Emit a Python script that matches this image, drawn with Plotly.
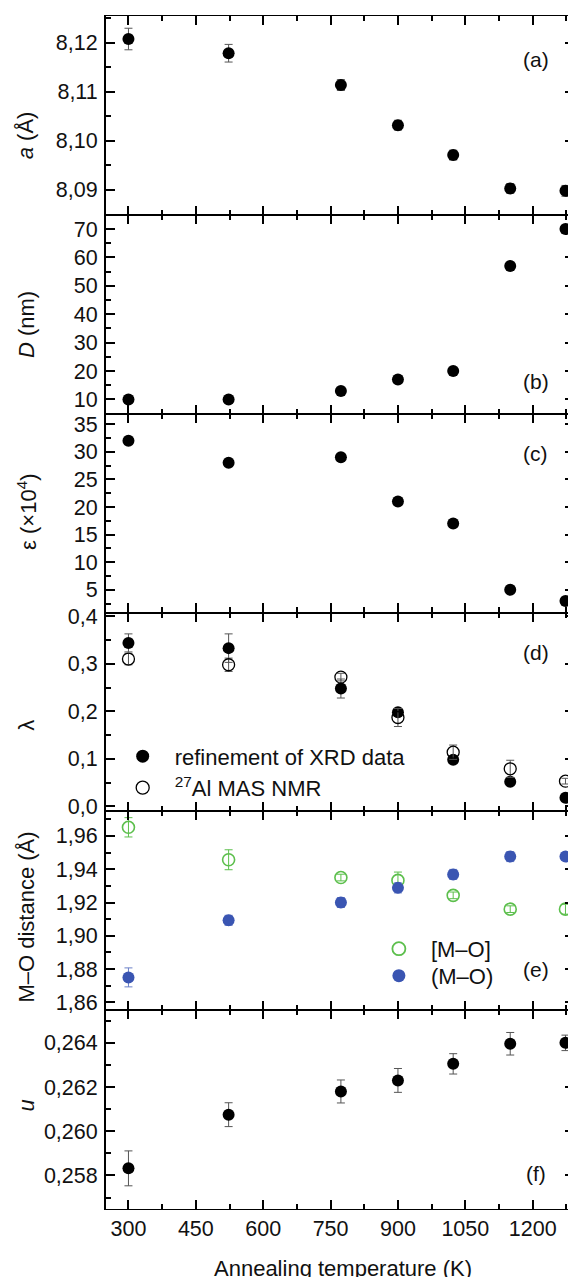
import plotly.graph_objects as go
from plotly.subplots import make_subplots

# ---------------- data ----------------
T = [300, 523, 773, 900, 1023, 1150, 1273]

a_val = [8.1208, 8.1179, 8.1114, 8.1032, 8.0971, 8.0903, 8.0898]
a_err = [0.0022, 0.0018, 0.0011, 0.0010, 0.0010, 0.0010, 0.0011]

D_val = [10, 10, 13, 17, 20, 57, 70]

eps_val = [32, 28, 29, 21, 17, 5, 3]

lam_xrd = [0.344, 0.333, 0.248, 0.198, 0.098, 0.052, 0.018]
lam_xrd_err = [0.019, 0.030, 0.020, 0.008, 0.005, 0.004, 0.004]
lam_nmr = [0.310, 0.298, 0.272, 0.187, 0.114, 0.079, 0.053]
lam_nmr_err = [0.012, 0.014, 0.008, 0.019, 0.015, 0.018, 0.006]

mo_tet = [1.9652, 1.9457, 1.9350, 1.9333, 1.9243, 1.9160, 1.9160]   # [M-O]
mo_tet_err = [0.0058, 0.0060, 0.0020, 0.0050, 0.0020, 0.0020, 0.0030]
mo_oct = [1.8750, 1.9093, 1.9200, 1.9288, 1.9369, 1.9476, 1.9476]   # (M-O)
mo_oct_err = [0.0057, 0.0030, 0.0030, 0.0030, 0.0030, 0.0030, 0.0020]

u_val = [0.25832, 0.26075, 0.26180, 0.26230, 0.26305, 0.26396, 0.26400]
u_err = [0.00079, 0.00054, 0.00052, 0.00054, 0.00046, 0.00051, 0.00035]

x_ticks = [300, 450, 600, 750, 900, 1050, 1200]

# ---------------- style ----------------
FONT = "Liberation Sans, Arial, sans-serif"
TXT = "#111111"
GREEN = "#5cbf4c"
BLUE = "#3a55b2"
ERR = "#555555"
MS = 12

OFF = 8                      # default page body margin
PAGE_W, PAGE_H = 576, 1277
W, H = PAGE_W - OFF, PAGE_H - OFF
PL, PR, PT, PB = 106, 576, 15, 1209   # plot area in page pixels
ML, MT = PL - OFF, PT - OFF
MR = 0
MB = H - (PB - OFF)
PW = PR - PL
PH = PB - PT


def px_x(px):
    return (px - PL) / PW


def px_y(py):
    return (PB - py) / PH


fig = make_subplots(rows=6, cols=1, shared_xaxes=True, vertical_spacing=0)


def err(arr, color=ERR):
    return dict(type="data", array=arr, visible=True, color=color, thickness=1, width=4)


filled = dict(symbol="circle", size=MS, color="black")

fig.add_trace(go.Scatter(x=T, y=a_val, mode="markers", marker=filled,
                         error_y=err(a_err), showlegend=False), row=1, col=1)
fig.add_trace(go.Scatter(x=T, y=D_val, mode="markers", marker=filled,
                         showlegend=False), row=2, col=1)
fig.add_trace(go.Scatter(x=T, y=eps_val, mode="markers", marker=filled,
                         showlegend=False), row=3, col=1)
fig.add_trace(go.Scatter(x=T, y=lam_xrd, mode="markers", marker=filled,
                         error_y=err(lam_xrd_err), showlegend=False), row=4, col=1)
fig.add_trace(go.Scatter(x=T, y=lam_nmr, mode="markers",
                         marker=dict(symbol="circle-open", size=MS, color="black",
                                     line=dict(width=1.3)),
                         error_y=err(lam_nmr_err), showlegend=False), row=4, col=1)
fig.add_trace(go.Scatter(x=T, y=mo_tet, mode="markers",
                         marker=dict(symbol="circle-open", size=MS, color=GREEN,
                                     line=dict(width=1.6)),
                         error_y=err(mo_tet_err, GREEN), showlegend=False), row=5, col=1)
fig.add_trace(go.Scatter(x=T, y=mo_oct, mode="markers",
                         marker=dict(symbol="circle", size=MS, color=BLUE),
                         error_y=err(mo_oct_err, "#6b80c8"), showlegend=False), row=5, col=1)
fig.add_trace(go.Scatter(x=T, y=u_val, mode="markers", marker=filled,
                         error_y=err(u_err), showlegend=False), row=6, col=1)

# legend-only entries
LMS = 13
leg_entries = [
    ("refinement of XRD data", dict(symbol="circle", size=LMS, color="black"), "legend", 4),
    ("<sup>27</sup>Al MAS NMR", dict(symbol="circle-open", size=LMS, color="black", line=dict(width=1.3)), "legend2", 4),
    ("[M\u2013O]", dict(symbol="circle-open", size=LMS, color=GREEN, line=dict(width=1.8)), "legend3", 5),
    ("(M\u2013O)", dict(symbol="circle", size=LMS, color=BLUE), "legend4", 5),
]
for name, mk, lg, r in leg_entries:
    fig.add_trace(go.Scatter(x=[None], y=[None], mode="markers", marker=mk, name=name,
                             legend=lg, showlegend=True), row=r, col=1)

leg_common = dict(xanchor="left", yanchor="middle", bgcolor="rgba(0,0,0,0)",
                  font=dict(family=FONT, size=22, color=TXT), itemwidth=54,
                  borderwidth=0)
fig.update_layout(
    legend=dict(x=px_x(110.7), y=px_y(756), **leg_common),
    legend2=dict(x=px_x(110.7), y=px_y(787.5), **leg_common),
    legend3=dict(x=px_x(368), y=px_y(948.7), **leg_common),
    legend4=dict(x=px_x(368), y=px_y(975.7), **leg_common),
)

# axes
axis_common = dict(showline=True, linecolor="black", mirror="allticks",
                   ticks="inside", ticklen=9, tickwidth=1.6, tickcolor="black",
                   showgrid=False, zeroline=False,
                   tickfont=dict(family=FONT, size=21.5, color=TXT))

fig.update_xaxes(range=[250, 1292], tickmode="array", tickvals=x_ticks, linewidth=1.1,
                 minor=dict(ticks="inside", ticklen=5, tickwidth=1.6, dtick=75, tick0=225,
                            tickcolor="black", showgrid=False),
                 **axis_common)
fig.update_xaxes(showticklabels=True, row=6, col=1)

y_specs = [
    ([8.0849, 8.1255], 8.09, 0.01, 0.005, ".2f"),
    ([5, 75], 10, 10, 5, "d"),
    ([0.9, 36.9], 5, 5, 2.5, "d"),
    ([-0.0105, 0.408], 0, 0.1, 0.05, ".1f"),
    ([1.8553, 1.9748], 1.86, 0.02, 0.01, ".2f"),
    ([0.25648, 0.26548], 0.258, 0.002, 0.001, ".3f"),
]
for i, (rng, t0, dt, mdt, fmt) in enumerate(y_specs, start=1):
    fig.update_yaxes(range=rng, tick0=t0, dtick=dt, tickformat=fmt, linewidth=2,
                     minor=dict(ticks="inside", ticklen=5, tickwidth=1.6, dtick=mdt,
                                tick0=t0, tickcolor="black", showgrid=False),
                     ticklabelstandoff=2,
                     row=i, col=1, **axis_common)

annotations = []
# y titles
ytitles = [
    ("<i>a</i> (Å)", 134),
    ("<i>D</i> (nm)", 324),
    ("ε (×10<sup>4</sup>)", 511),
    ("λ", 725),
    ("M\u2013O distance (Å)", 917),
    ("<i>u</i>", 1105),
]
for txt, yc in ytitles:
    annotations.append(dict(text=txt, x=px_x(26), y=px_y(yc), xref="paper", yref="paper",
                            xanchor="center", yanchor="middle", textangle=-90,
                            showarrow=False, font=dict(family=FONT, size=22, color=TXT)))
# panel labels
for lab, yc in zip(["(a)", "(b)", "(c)", "(d)", "(e)", "(f)"],
                   [58.8, 380.5, 452.7, 651.6, 969.3, 1173.9]):
    annotations.append(dict(text=lab, x=px_x(537.5), y=px_y(yc), xref="paper", yref="paper",
                            xanchor="center", yanchor="middle", showarrow=False,
                            font=dict(family=FONT, size=21, color=TXT)))
# x title
annotations.append(dict(text="Annealing temperature (K)", x=px_x(343.7), y=px_y(1269),
                        xref="paper", yref="paper", xanchor="center", yanchor="middle",
                        showarrow=False, font=dict(family=FONT, size=22, color=TXT)))

fig.update_layout(
    width=W, height=H,
    margin=dict(l=ML, r=MR, t=MT, b=MB),
    paper_bgcolor="white", plot_bgcolor="white",
    separators=",.",
    font=dict(family=FONT, size=21, color=TXT),
    annotations=annotations,
)

fig.write_html("out.html")
